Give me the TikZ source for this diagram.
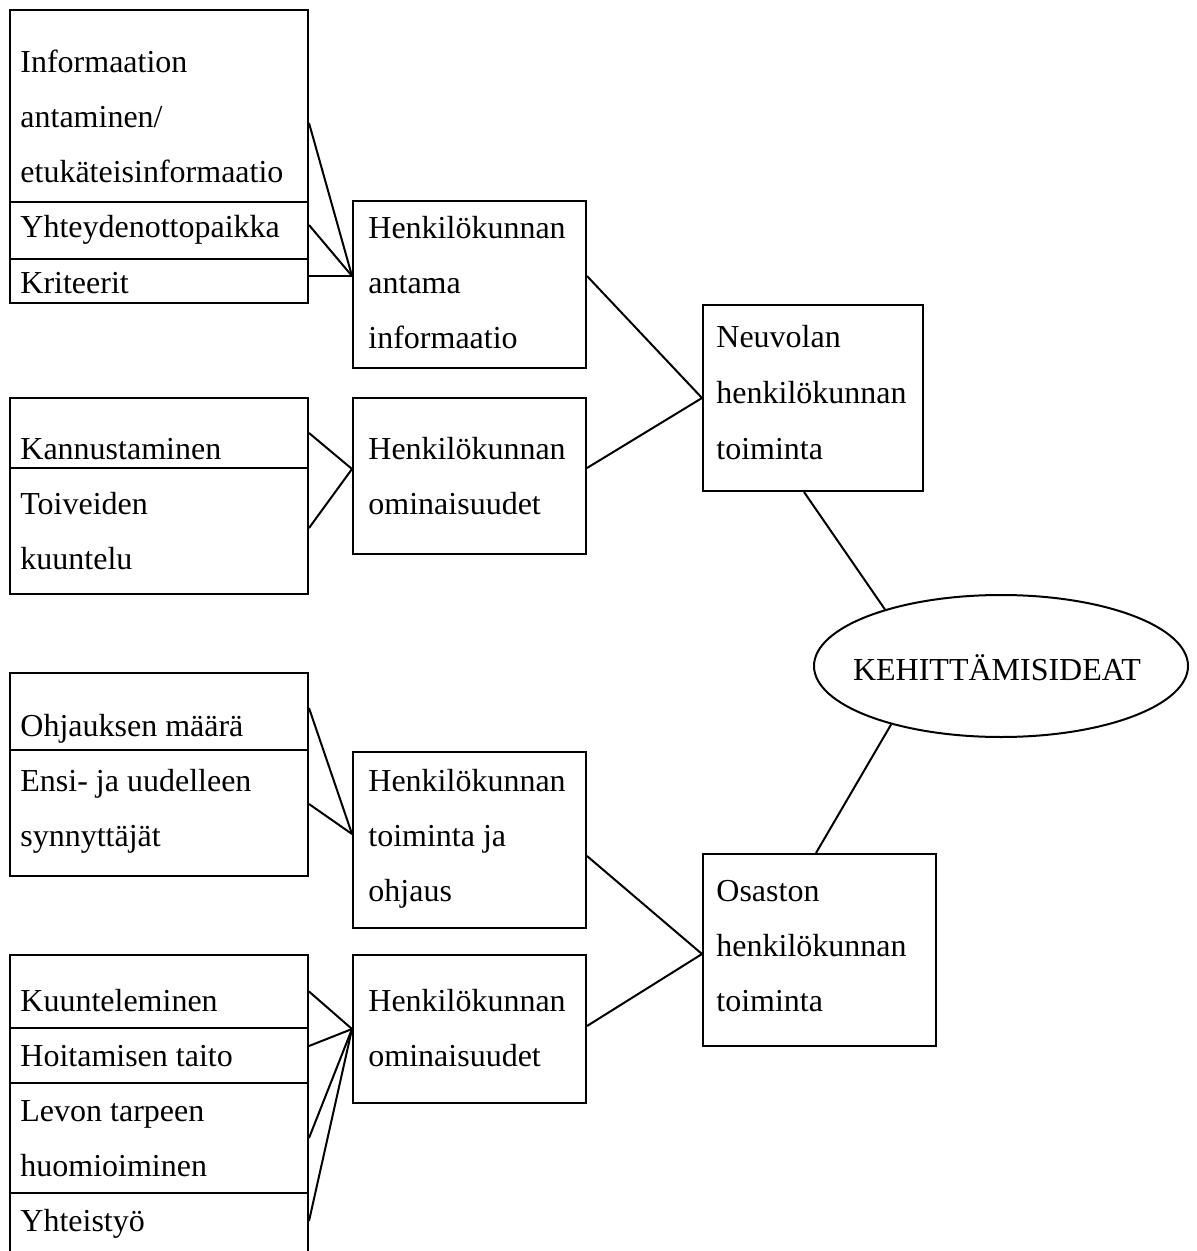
\documentclass[tikz,border=0pt]{standalone}
\usepackage{fontspec}
\setmainfont{Liberation Serif}
\usetikzlibrary{shapes.geometric}
\begin{document}
\begin{tikzpicture}[x=0.5pt,y=-0.5pt,
  box/.style={draw,line width=1pt,inner sep=0pt,anchor=north west},
  oval/.style={draw,ellipse,line width=1pt,inner sep=0pt},
  lbl/.style={anchor=base west,inner sep=0pt,font=\fontsize{16pt}{19pt}\selectfont},
  link/.style={line width=1pt}]
\useasboundingbox (0,0) rectangle (1197,1251);

% ---- upper left column ----
\node[box,minimum width=149pt,minimum height=96pt]   (a1) at (9,9) {};
\node[box,minimum width=149pt,minimum height=28.5pt] (a2) at (9,201) {};
\node[box,minimum width=149pt,minimum height=22pt]   (a3) at (9,258) {};
\node[lbl] (ta1) at (20,73)  {Informaation};
\node[lbl] (ta2) at (20,128) {antaminen/};
\node[lbl] (ta3) at (20,183) {etukäteisinformaatio};
\node[lbl] (ta4) at (20,238) {Yhteydenottopaikka};
\node[lbl] (ta5) at (20,293) {Kriteerit};

\node[box,minimum width=149pt,minimum height=35pt] (c1) at (9,397) {};
\node[box,minimum width=149pt,minimum height=63pt] (c2) at (9,467) {};
\node[lbl] (tc1) at (20,459) {Kannustaminen};
\node[lbl] (tc2) at (20,514) {Toiveiden};
\node[lbl] (tc3) at (20,569) {kuuntelu};

% ---- lower left column ----
\node[box,minimum width=149pt,minimum height=38.5pt] (e1) at (9,672) {};
\node[box,minimum width=149pt,minimum height=63pt]   (e2) at (9,749) {};
\node[lbl] (te1) at (20,736) {Ohjauksen määrä};
\node[lbl] (te2) at (20,791) {Ensi- ja uudelleen};
\node[lbl] (te3) at (20,846) {synnyttäjät};

\node[box,minimum width=149pt,minimum height=36.5pt] (g1) at (9,954) {};
\node[box,minimum width=149pt,minimum height=27.5pt] (g2) at (9,1027) {};
\node[box,minimum width=149pt,minimum height=55pt]   (g3) at (9,1082) {};
\node[box,minimum width=149pt,minimum height=35pt]   (g4) at (9,1192) {};
\node[lbl] (tg1) at (20,1011) {Kuunteleminen};
\node[lbl] (tg2) at (20,1066) {Hoitamisen taito};
\node[lbl] (tg3) at (20,1121) {Levon tarpeen};
\node[lbl] (tg4) at (20,1176) {huomioiminen};
\node[lbl] (tg5) at (20,1231) {Yhteistyö};

% ---- middle column ----
\node[box,minimum width=116.5pt,minimum height=83.5pt] (B) at (352,200) {};
\node[lbl] (tb1) at (368,239) {Henkilökunnan};
\node[lbl] (tb2) at (368,294) {antama};
\node[lbl] (tb3) at (368,349) {informaatio};

\node[box,minimum width=116.5pt,minimum height=78pt] (D) at (352,397) {};
\node[lbl] (td1) at (368,459) {Henkilökunnan};
\node[lbl] (td2) at (368,514) {ominaisuudet};

\node[box,minimum width=116.5pt,minimum height=88pt] (F) at (352,751) {};
\node[lbl] (tf1) at (368,791) {Henkilökunnan};
\node[lbl] (tf2) at (368,846) {toiminta ja};
\node[lbl] (tf3) at (368,901) {ohjaus};

\node[box,minimum width=116.5pt,minimum height=74pt] (H) at (352,954) {};
\node[lbl] (th1) at (368,1011) {Henkilökunnan};
\node[lbl] (th2) at (368,1066) {ominaisuudet};

% ---- right column ----
\node[box,minimum width=110pt,minimum height=93pt] (N) at (702,304) {};
\node[lbl] (tn1) at (716,348) {Neuvolan};
\node[lbl] (tn2) at (716,403) {henkilökunnan};
\node[lbl] (tn3) at (716,459) {toiminta};

\node[box,minimum width=116.5pt,minimum height=96pt] (O) at (702,853) {};
\node[lbl] (to1) at (716,901) {Osaston};
\node[lbl] (to2) at (716,956) {henkilökunnan};
\node[lbl] (to3) at (716,1011) {toiminta};

\node[oval,minimum width=187pt,minimum height=71pt] (K) at (1001,666) {};
\node[anchor=base,inner sep=0pt,font=\fontsize{16pt}{19pt}\selectfont] (tk) at (997,680) {KEHITTÄMISIDEAT};

% ---- junction points ----
\coordinate (Bin)  at ([yshift=4.25pt]B.west);
\coordinate (Din)  at ([yshift=3.5pt]D.west);
\coordinate (Fin)  at ([yshift=3pt]F.west);

% ---- connectors ----
\draw[link] ([yshift=-8.5pt]a1.east) -- (Bin);
\draw[link] ([yshift=2.75pt]a2.east) -- (Bin);
\draw[link] ([yshift=2.5pt]a3.east) -- (Bin);

\draw[link] (c1.east) -- (Din);
\draw[link] ([yshift=1.5pt]c2.east) -- (Din);

\draw[link] ([yshift=1.75pt]e1.east) -- (Fin);
\draw[link] ([yshift=4.5pt]e2.east) -- (Fin);

\draw[link] (g1.east) -- (H.west);
\draw[link] ([yshift=4.75pt]g2.east) -- (H.west);
\draw[link] (g3.east) -- (H.west);
\draw[link] ([yshift=3.5pt]g4.east) -- (H.west);

\draw[link] ([yshift=4.25pt]B.east) -- (N.west);
\draw[link] ([yshift=4pt]D.east) -- (N.west);
\draw[link] ([yshift=-8pt]F.east) -- ([yshift=-2pt]O.west);
\draw[link] ([yshift=1.5pt]H.east) -- ([yshift=-2pt]O.west);

\draw[link] ([xshift=-4.5pt]N.south) -- (K.154);
\draw[link] (K.208) -- ([xshift=-1.75pt]O.north);
\end{tikzpicture}
\end{document}
